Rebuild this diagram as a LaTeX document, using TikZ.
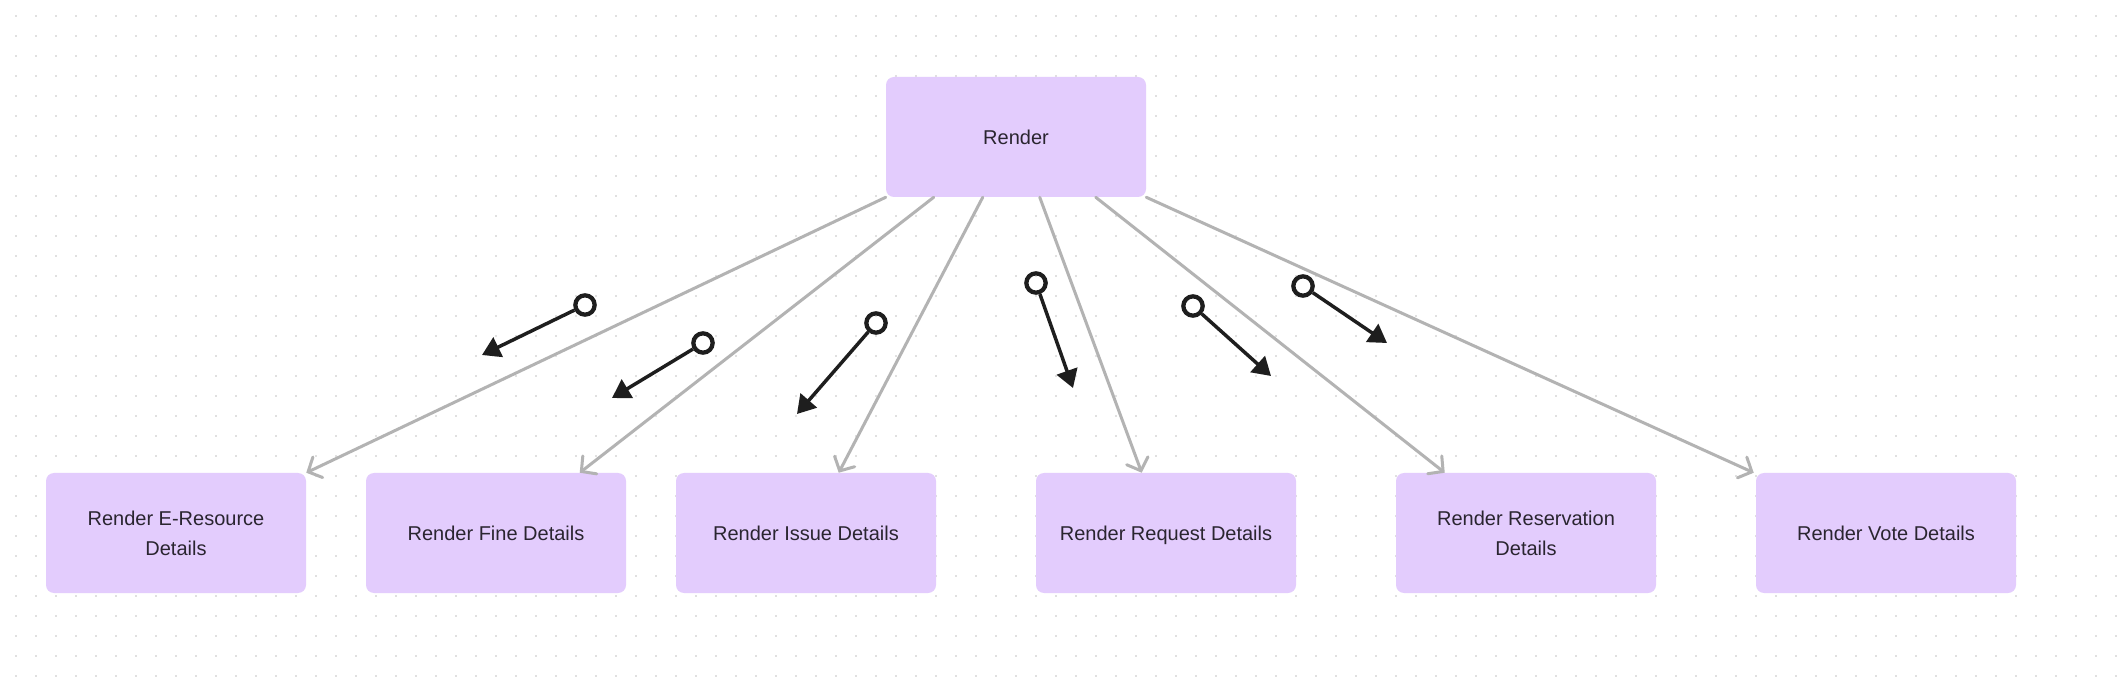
\documentclass[tikz,border=0pt]{standalone}
\usepackage{fontspec}
\setmainfont{Liberation Sans}
\usetikzlibrary{arrows.meta,calc}
\definecolor{nodefill}{HTML}{E3CCFD}
\definecolor{txtc}{HTML}{2A2530}
\definecolor{lgray}{HTML}{B3B3B3}
\definecolor{blkc}{HTML}{1E1E1E}
\definecolor{dotcol}{HTML}{E0E0E0}
\begin{document}
\begin{tikzpicture}[x=0.75pt,y=-0.75pt,
  box/.style={rectangle, rounded corners=6pt, fill=nodefill, minimum width=195pt, minimum height=90pt, inner sep=0pt, text=txtc, font=\fontsize{15pt}{22.5pt}\selectfont, align=center},
  gline/.style={draw=lgray, line width=2.25pt, line cap=round, -{Straight Barb[length=8pt,width=17pt,line cap=round]}},
  bline/.style={draw=blkc, line width=2.6pt, -{Triangle[length=13.5pt,width=16pt]}},
  ring/.style={circle, draw=blkc, line width=3.2pt, minimum size=14.5pt, inner sep=0pt}]
\fill[white] (0,0) rectangle (2121,691);
\useasboundingbox (0,0) rectangle (2121,691);
\foreach \i in {0,...,105}{
  \foreach \j in {0,...,33}{
    \fill[dotcol] (14.7+20*\i,14.7+20*\j) rectangle ++(2,2);
  }
}
\node[box] (top) at (1016,137) {Render};
\node[box] (eres) at (176,533) {Render E-Resource\\Details};
\node[box] (fine) at (496,533) {Render Fine Details};
\node[box] (issue) at (806,533) {Render Issue Details};
\node[box] (req) at (1166,533) {\raisebox{0pt}[\height][0pt]{Render Request Details}};
\node[box] (resv) at (1526,533) {Render Reservation\\Details};
\node[box] (vote) at (1886,533) {Render Vote Details};

\draw[gline] (top.south west) -- (eres.north east);
\draw[gline] ($(top.south west)+(48,0)$) -- ($(fine.north west)+(214,0)$);
\draw[gline] ($(top.south west)+(97,0)$) -- ($(issue.north west)+(163,0)$);
\draw[gline] ($(top.south west)+(154,0)$) -- ($(req.north west)+(106,0)$);
\draw[gline] ($(top.south west)+(210,0)$) -- ($(resv.north west)+(49,0)$);
\draw[gline] (top.south east) -- ($(vote.north west)+(-2,0)$);

\node[ring] (c1) at (585,305) {};
\node[ring] (c2) at (703,343) {};
\node[ring] (c3) at (876,323) {};
\node[ring] (c4) at (1036,283) {};
\node[ring] (c5) at (1193,306) {};
\node[ring] (c6) at (1303,286) {};
\coordinate (t1) at (482,355);
\coordinate (t2) at (612,398);
\coordinate (t3) at (797,414);
\coordinate (t4) at (1073,388);
\coordinate (t5) at (1271,376);
\coordinate (t6) at (1387,343);
\draw[bline] (c1) -- (t1);
\draw[bline] (c2) -- (t2);
\draw[bline] (c3) -- (t3);
\draw[bline] (c4) -- (t4);
\draw[bline] (c5) -- (t5);
\draw[bline] (c6) -- (t6);
\end{tikzpicture}
\end{document}
